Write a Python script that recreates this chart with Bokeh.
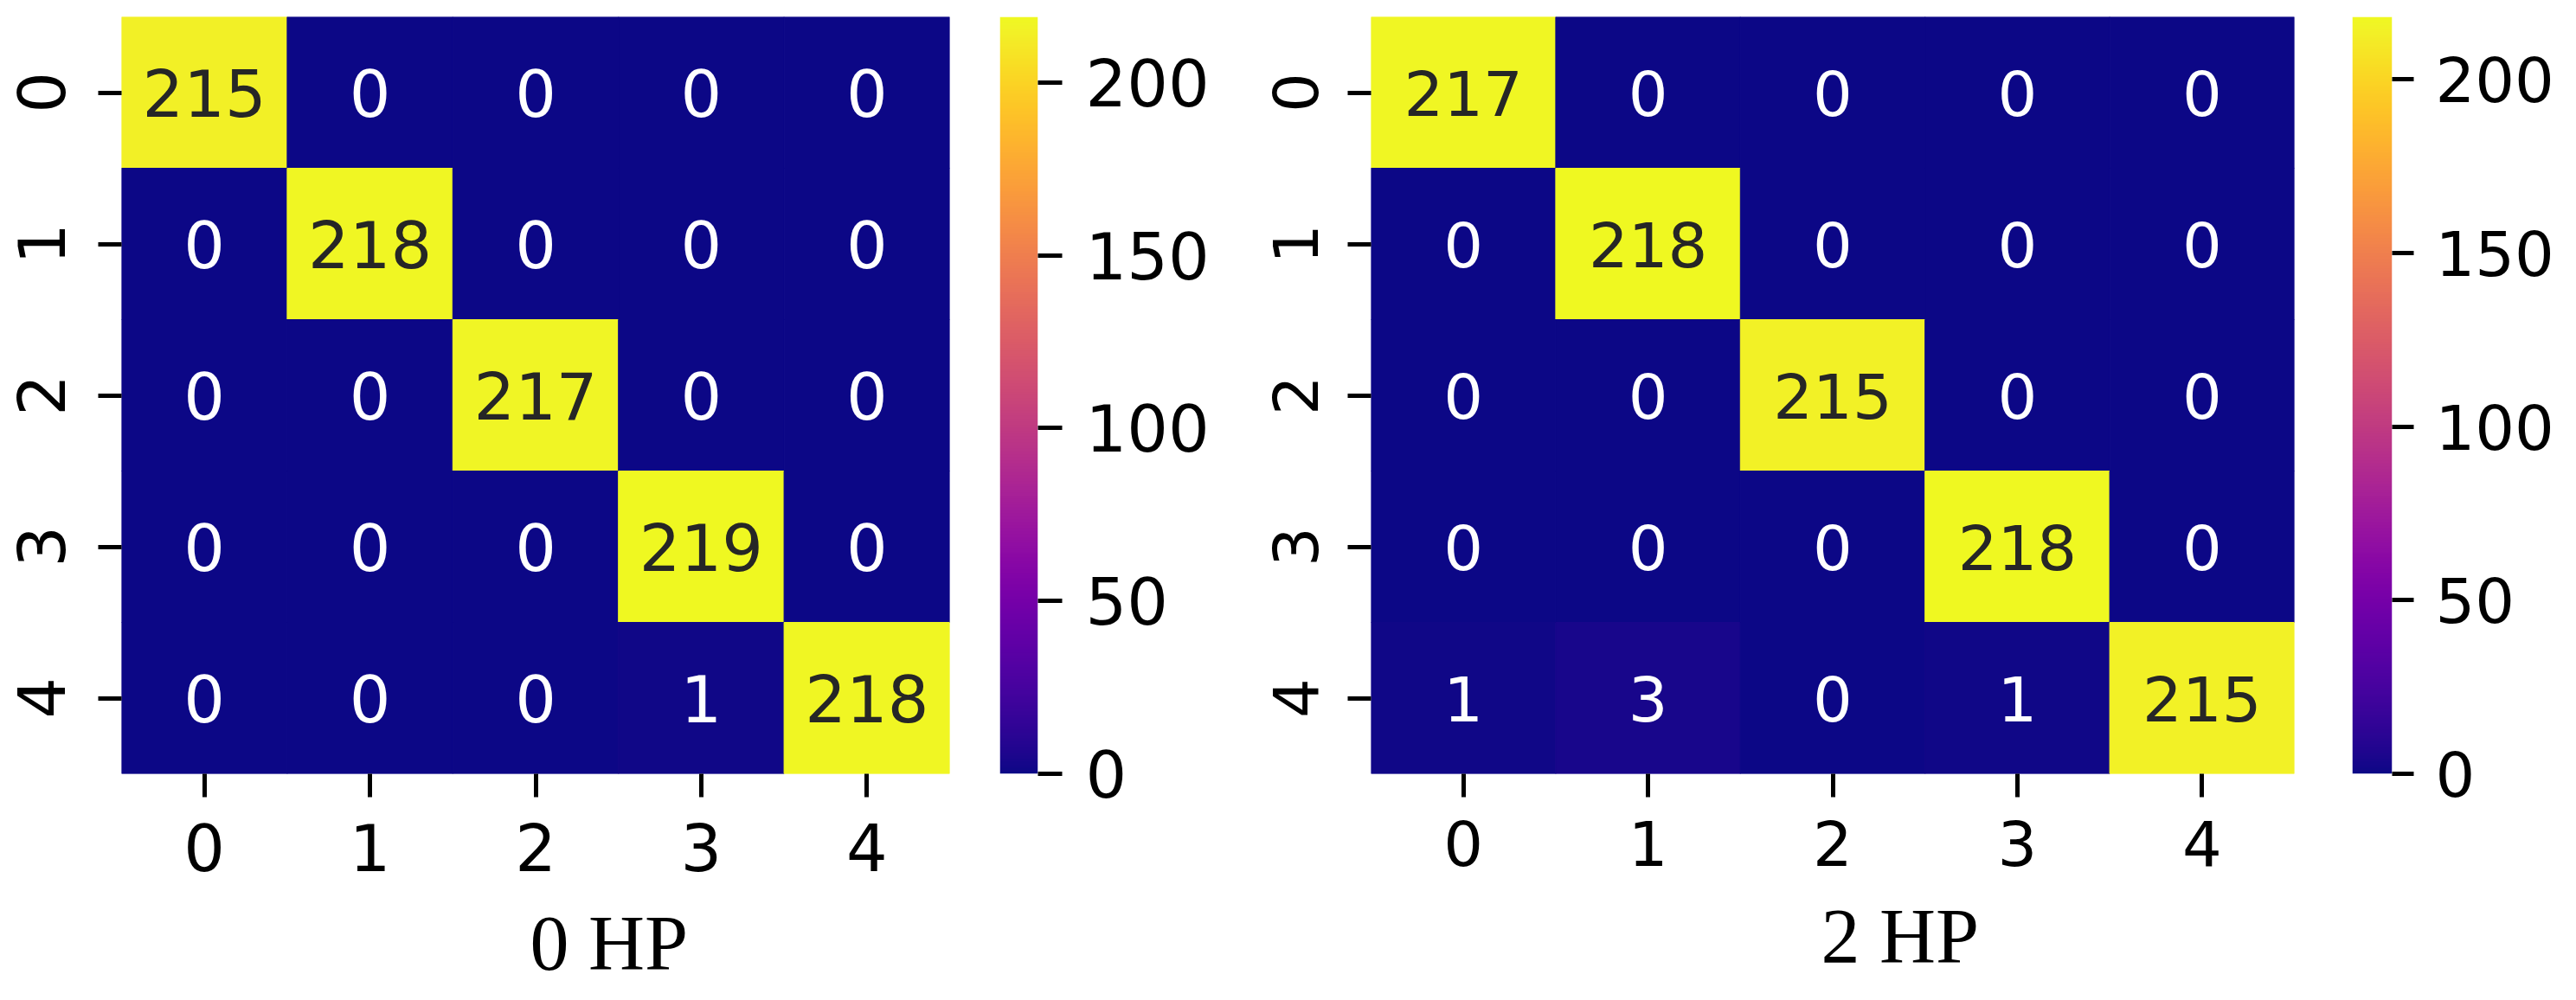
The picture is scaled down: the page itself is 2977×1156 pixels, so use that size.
import numpy as np
from bokeh.plotting import figure
from bokeh.layouts import row
from bokeh.models import ColumnDataSource, LinearColorMapper, FixedTicker, Range1d, FactorRange, Title
from bokeh.palettes import Plasma256
from bokeh.embed import file_html
from bokeh.resources import INLINE
from bokeh.core.properties import value

# ---- data ----
classes = ["0", "1", "2", "3", "4"]
cm_0hp = [
    [215, 0, 0, 0, 0],
    [0, 218, 0, 0, 0],
    [0, 0, 217, 0, 0],
    [0, 0, 0, 219, 0],
    [0, 0, 0, 1, 218],
]
cm_2hp = [
    [217, 0, 0, 0, 0],
    [0, 218, 0, 0, 0],
    [0, 0, 215, 0, 0],
    [0, 0, 0, 218, 0],
    [1, 3, 0, 1, 215],
]
panel_titles = ["0 HP", "2 HP"]
cbar_ticks = [0, 50, 100, 150, 200]

FONT = "DejaVu Sans"
SERIF = "Liberation Serif"


def rel_lum(hexcol):
    r, g, b = [int(hexcol[i:i + 2], 16) / 255 for i in (1, 3, 5)]
    def f(c):
        return c / 12.92 if c <= 0.03928 else ((c + 0.055) / 1.055) ** 2.4
    return 0.2126 * f(r) + 0.7152 * f(g) + 0.0722 * f(b)


def style_axis(ax, fs, tick_out, standoff):
    ax.axis_line_color = None
    ax.major_tick_in = 0
    ax.major_tick_out = tick_out
    ax.major_tick_line_width = 5
    ax.major_tick_line_color = "black"
    ax.minor_tick_line_color = None
    ax.major_label_text_font = FONT
    ax.major_label_text_font_size = f"{fs}px"
    ax.major_label_text_color = "black"
    ax.major_label_standoff = standoff


def heatmap(cm, title, frame_w, frame_h, bl, br, bt, bb, fs, afs, tick_out,
            ystand, xstand, title_offset, title_standoff, gap):
    cm = np.array(cm)
    vmax = cm.max()
    xs, ys, vals, cols, tcols = [], [], [], [], []
    for i, r in enumerate(classes):
        for j, c in enumerate(classes):
            v = int(cm[i, j])
            idx = min(255, int(round(v / vmax * 255)))
            col = Plasma256[idx]
            xs.append(c)
            ys.append(r)
            vals.append(str(v))
            cols.append(col)
            tcols.append("#262626" if rel_lum(col) > 0.408 else "#ffffff")
    src = ColumnDataSource(dict(x=xs, y=ys, v=vals, c=cols, t=tcols))
    p = figure(width=bl + frame_w + br, height=bt + frame_h + bb,
               x_range=FactorRange(*classes), y_range=FactorRange(*classes[::-1]),
               output_backend="svg", toolbar_location=None,
               min_border_left=bl, min_border_right=br,
               min_border_top=bt, min_border_bottom=bb)
    p.rect(x="x", y="y", width=1, height=1, source=src, fill_color="c",
           line_color="c", line_width=1)
    p.text(x="x", y="y", text="v", source=src, text_color="t",
           text_align="center", text_baseline="middle",
           text_font=value(FONT), text_font_size=f"{afs}px")
    p.xgrid.grid_line_color = None
    p.ygrid.grid_line_color = None
    p.outline_line_color = None
    p.background_fill_color = "white"
    p.border_fill_color = "white"
    p.x_range.range_padding = 0
    p.y_range.range_padding = 0
    xa = p.xaxis[0]
    style_axis(xa, fs, tick_out, xstand)
    # invisible spacer label, only to set the gap between tick labels and title
    xa.axis_label = " "
    xa.axis_label_text_font_size = "2px"
    xa.axis_label_text_alpha = 0
    xa.axis_label_standoff = gap
    style_axis(p.yaxis[0], fs, tick_out, ystand)
    p.yaxis[0].major_label_orientation = "vertical"
    t = Title(text=title, align="left", vertical_align="bottom",
              offset=title_offset, standoff=title_standoff,
              text_font=SERIF, text_font_size="90px", text_font_style="normal",
              text_color="black")
    p.add_layout(t, "below")
    return p, vmax


def colorbar(vmax, frame_w, frame_h, bl, br, bt, bb, fs, tick_out, standoff):
    mapper = LinearColorMapper(palette=Plasma256, low=0, high=vmax)
    p = figure(width=bl + frame_w + br, height=bt + frame_h + bb,
               x_range=Range1d(0, 1), y_range=Range1d(0, vmax),
               x_axis_location=None, y_axis_location="right",
               output_backend="svg", toolbar_location=None,
               min_border_left=bl, min_border_right=br,
               min_border_top=bt, min_border_bottom=bb)
    ramp = np.linspace(0, vmax, 512).reshape(512, 1)
    p.image(image=[ramp], x=0, y=0, dw=1, dh=vmax, color_mapper=mapper)
    p.xgrid.grid_line_color = None
    p.ygrid.grid_line_color = None
    p.outline_line_color = None
    ax = p.yaxis[0]
    ax.ticker = FixedTicker(ticks=cbar_ticks)
    style_axis(ax, fs, tick_out, standoff)
    return p


H = 1140
# left panel: frame x 148..1105, y 27..902 (page coords incl. 8px margin)
h0, v0 = heatmap(cm_0hp, panel_titles[0], frame_w=957, frame_h=875, bl=140, br=35,
                 bt=19, bb=H - 19 - 875, fs=75, afs=75, tick_out=27,
                 ystand=39, xstand=30, title_offset=472, title_standoff=-40, gap=44)
c0 = colorbar(v0, frame_w=44, frame_h=875, bl=23, br=213, bt=19, bb=H - 19 - 875,
              fs=75, tick_out=28, standoff=27)
# right panel: frame x 1592..2659, y 18..911
h1, v1 = heatmap(cm_2hp, panel_titles[1], frame_w=1067, frame_h=893, bl=172, br=31,
                 bt=10, bb=H - 10 - 893, fs=72, afs=72, tick_out=27,
                 ystand=35, xstand=26, title_offset=520, title_standoff=-40, gap=42)
c1 = colorbar(v1, frame_w=46, frame_h=893, bl=36, br=197, bt=10, bb=H - 10 - 893,
              fs=72, tick_out=25, standoff=25)

layout = row(h0, c0, h1, c1, spacing=0)
open("out.html", "w").write(file_html(layout, INLINE))
